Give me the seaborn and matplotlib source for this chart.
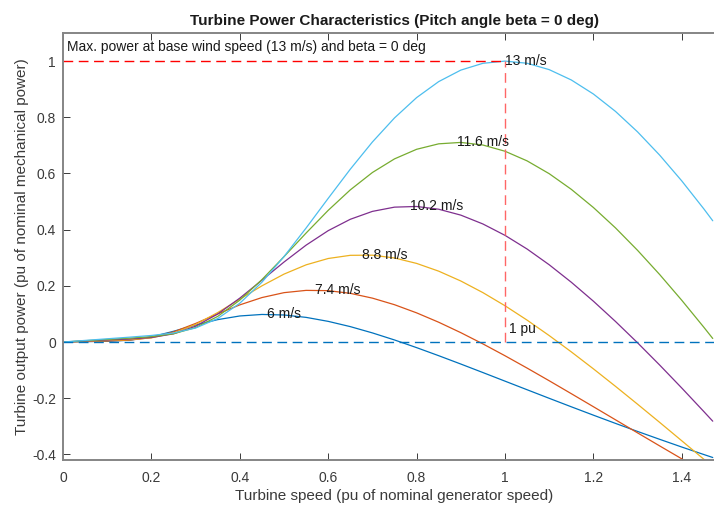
import numpy as np
import pandas as pd
import seaborn as sns
import matplotlib.pyplot as plt


# ========================================
# 0. Data
# ========================================
speed_pu = [0.0, 0.05, 0.10, 0.15, 0.20, 0.25, 0.30, 0.35, 0.40, 0.45,
            0.50, 0.55, 0.60, 0.65, 0.70, 0.75, 0.80, 0.85, 0.90, 0.95,
            1.00, 1.05, 1.10, 1.15, 1.20, 1.25, 1.30, 1.35, 1.40, 1.45, 1.47]

wind_labels = ['6 m/s', '7.4 m/s', '8.8 m/s', '10.2 m/s', '11.6 m/s', '13 m/s']

power_6 = [0, .0012, .0025, .0063, .0183, .0382, .0605, .0797, .0927, .0981,
           .0962, .0877, .0735, .0548, .0324, .0073, -.0200, -.0487, -.0784, -.1087,
           -.1393, -.1699, -.2004, -.2306, -.2604, -.2897, -.3184, -.3464, -.3739, -.4006, -.4111]
power_7_4 = [0, .0019, .0037, .0066, .0156, .0360, .0661, .1001, .1322, .1582,
             .1757, .1838, .1828, .1733, .1562, .1328, .1038, .0704, .0333, -.0067,
             -.0489, -.0928, -.1379, -.1839, -.2303, -.2769, -.3235, -.3699, -.4159, -.4615, -.4795]
power_8_8 = [0, .0026, .0053, .0082, .0148, .0317, .0625, .1048, .1527, .1999,
             .2417, .2747, .2973, .3086, .3091, .2992, .2798, .2522, .2172, .1758,
             .1291, .0779, .0229, -.0351, -.0955, -.1578, -.2215, -.2862, -.3517, -.4175, -.4439]
power_10_2 = [0, .0035, .0071, .0107, .0161, .0291, .0562, .0996, .1562, .2200,
              .2847, .3448, .3964, .4369, .4650, .4801, .4825, .4727, .4517, .4202,
              .3797, .3310, .2750, .2128, .1453, .0731, -.0029, -.0821, -.1639, -.2478, -.2818]
power_11_6 = [0, .0046, .0091, .0137, .0191, .0293, .0514, .0911, .1491, .2221,
              .3038, .3879, .4687, .5416, .6034, .6519, .6860, .7055, .7105, .7012,
              .6791, .6448, .5992, .5435, .4788, .4062, .3262, .2401, .1485, .0523, .0126]
power_13 = [0, .0057, .0115, .0172, .0233, .0321, .0498, .0836, .1380, .2128,
            .3041, .4058, .5114, .6152, .7120, .7977, .8700, .9270, .9679, .9921,
            1.0, .9923, .9696, .9328, .8828, .8209, .7479, .6651, .5733, .4736, .4316]

# label anchor = maximum of each curve
peak_speed = [0.4615, 0.5692, 0.6769, 0.7846, 0.8923, 1.0]
peak_power = [0.0983, 0.1844, 0.3102, 0.4830, 0.7105, 1.0]

base_speed = 1.0
max_power = 1.0

line_colors = ['#0072BD', '#D95319', '#EDB120', '#7E2F8E', '#77AC30', '#4DBEEE']

# ========================================
# 1. Long table for seaborn
# ========================================
series = [power_6, power_7_4, power_8_8, power_10_2, power_11_6, power_13]
df = pd.concat([
    pd.DataFrame({'speed': speed_pu, 'power': vals, 'wind': lab})
    for lab, vals in zip(wind_labels, series)
], ignore_index=True)

# ========================================
# 2. Plot
# ========================================
sns.set_theme(style='ticks')
plt.rcParams['font.family'] = ['Liberation Sans', 'DejaVu Sans']
txt_color = '#3a3a3a'

fig = plt.figure(figsize=(7.14, 5.05), dpi=100)
ax = fig.add_axes([63 / 714, 45 / 505, 663 / 714, 427 / 505])

sns.lineplot(data=df, x='speed', y='power', hue='wind', hue_order=wind_labels,
             palette=dict(zip(wind_labels, line_colors)), sort=False,
             estimator=None, linewidth=0.9, legend=False, ax=ax)

dash = (7, 4)
ax.axhline(0, color='#0072BD', lw=1.0, dashes=dash)
ax.plot([0, base_speed], [max_power, max_power], color='red', lw=1.0, dashes=dash)
ax.plot([base_speed, base_speed], [0, max_power], color='#ff6666', lw=1.0, dashes=dash)

for sx, py, lab in zip(peak_speed, peak_power, wind_labels):
    ax.text(sx, py, lab, ha='left', va='center', fontsize=10, color='#1a1a1a')
ax.text(base_speed + 0.01, 0.045, '1 pu', ha='left', va='center', fontsize=10, color='#1a1a1a')
ax.text(0.01, 1.05, 'Max. power at base wind speed (13 m/s) and beta = 0 deg',
        ha='left', va='center', fontsize=10, color='#1a1a1a')

ax.set_xlim(0, 1.5)
ax.set_ylim(-0.42, 1.1)
xt = [0, 0.2, 0.4, 0.6, 0.8, 1, 1.2, 1.4]
yt = [-0.4, -0.2, 0, 0.2, 0.4, 0.6, 0.8, 1]
ax.set_xticks(xt)
ax.set_xticklabels([f'{v:g}' for v in xt])
ax.set_yticks(yt)
ax.set_yticklabels([f'{v:g}' for v in yt])
ax.tick_params(direction='in', top=True, right=True, length=5, width=0.7,
               labelsize=10, colors=txt_color)
ax.tick_params(axis='x', pad=8)
ax.tick_params(axis='y', pad=5)
for s in ax.spines.values():
    s.set_color('#858585')
    s.set_linewidth(1.4)

ax.set_xlabel('Turbine speed (pu of nominal generator speed)', fontsize=11, color=txt_color, labelpad=3)
ax.set_ylabel('Turbine output power (pu of nominal mechanical power)', fontsize=11, color=txt_color, labelpad=2)
ax.set_title('Turbine Power Characteristics (Pitch angle beta = 0 deg)', fontsize=11,
             fontweight='bold', color='#1a1a1a', pad=6)

fig.savefig('out.png', dpi=100)
